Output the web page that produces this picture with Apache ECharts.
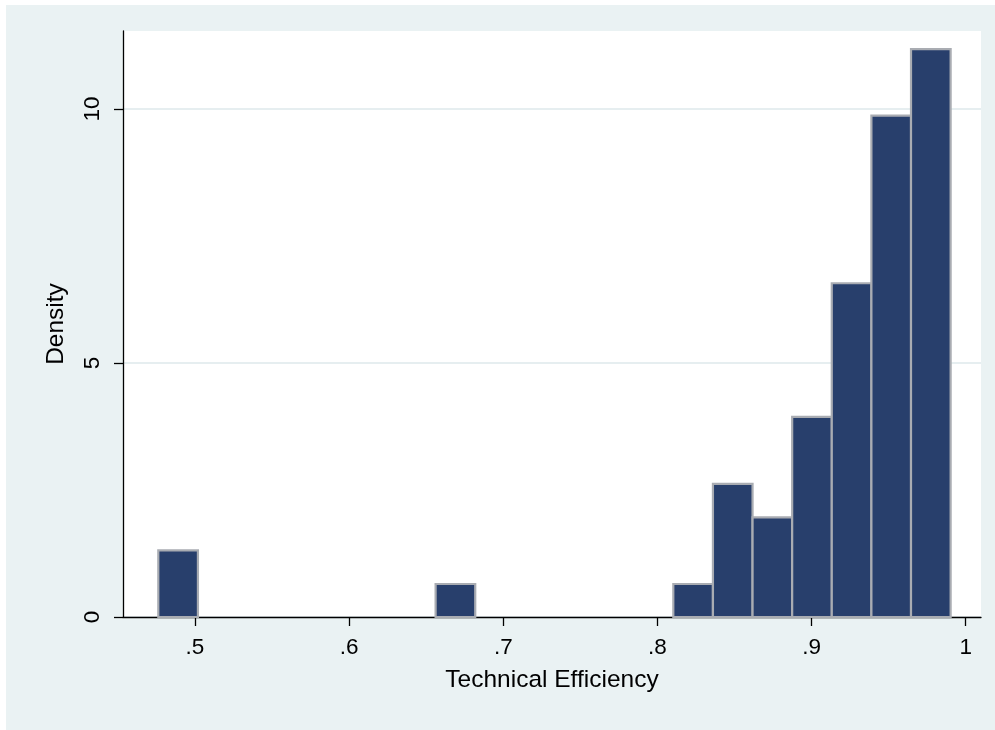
<!DOCTYPE html>
<html>
<head>
<meta charset="utf-8">
<script src="https://cdn.jsdelivr.net/npm/echarts@6/dist/echarts.min.js"></script>
<style>
  html, body { margin: 0; padding: 0; background: #ffffff; width: 995px; height: 730px; overflow: hidden; }
  #chart { position: absolute; left: 6px; top: 5px; width: 989px; height: 725px; }
</style>
</head>
<body>
<div id="chart"></div>
<script>
// Histogram of technical efficiency (Stata-style), 20 bins
var binStart = 0.4762;
var binWidth = 0.0257;
var densities = [1.31, 0, 0, 0, 0, 0, 0, 0.65, 0, 0, 0, 0, 0, 0.65, 2.62, 1.96, 3.94, 6.57, 9.87, 11.18];
var xTickValues = [0.5, 0.6, 0.7, 0.8, 0.9, 1];
var xTickLabels = ['.5', '.6', '.7', '.8', '.9', '1'];
var yTickValues = [0, 5, 10];
var yTickLabels = ['0', '5', '10'];
var xTitle = 'Technical Efficiency';
var yTitle = 'Density';

var data = densities.map(function (d, i) {
  var x0 = binStart + i * binWidth;
  return [x0, x0 + binWidth, d];
});

var font = "'Liberation Sans', Arial, Helvetica, sans-serif";
var chart = echarts.init(document.getElementById('chart'), null, { renderer: 'canvas' });
chart.setOption({
  backgroundColor: '#eaf2f3',
  animation: false,
  grid: { left: 117, top: 26, right: 14, bottom: 113, show: true, backgroundColor: '#ffffff', borderWidth: 0 },
  xAxis: {
    type: 'value',
    min: 0.4533,
    max: 1.0099,
    name: xTitle,
    nameLocation: 'middle',
    nameGap: 51,
    nameTextStyle: { fontFamily: font, fontSize: 24.5, color: '#000' },
    axisLine: { show: true, onZero: false, lineStyle: { color: '#000', width: 1.3 } },
    axisTick: { show: true, length: 9, customValues: xTickValues, lineStyle: { color: '#000', width: 1.3 } },
    axisLabel: {
      customValues: xTickValues,
      margin: 19,
      fontFamily: font, fontSize: 22.5, color: '#000',
      formatter: function (v) {
        for (var i = 0; i < xTickValues.length; i++) {
          if (Math.abs(xTickValues[i] - v) < 1e-9) return xTickLabels[i];
        }
        return '';
      }
    },
    splitLine: { show: false }
  },
  yAxis: {
    type: 'value',
    min: 0,
    max: 11.535,
    name: yTitle,
    nameLocation: 'middle',
    nameGap: 54,
    nameRotate: 90,
    nameTextStyle: { fontFamily: font, fontSize: 24.5, color: '#000' },
    axisLine: { show: true, lineStyle: { color: '#000', width: 1.3 } },
    axisTick: { show: true, length: 9, customValues: yTickValues, lineStyle: { color: '#000', width: 1.3 } },
    axisLabel: {
      customValues: yTickValues,
      rotate: 90,
      margin: 19,
      fontFamily: font, fontSize: 22.5, color: '#000',
      formatter: function (v) {
        for (var i = 0; i < yTickValues.length; i++) {
          if (Math.abs(yTickValues[i] - v) < 1e-9) return yTickLabels[i];
        }
        return '';
      }
    },
    splitLine: { show: true, lineStyle: { color: '#e6eef0', width: 2 } }
  },
  series: [{
    type: 'custom',
    data: data,
    encode: { x: [0, 1], y: 2 },
    renderItem: function (params, api) {
      var h = api.value(2);
      if (!h) return null;
      var p0 = api.coord([api.value(0), h]);
      var p1 = api.coord([api.value(1), 0]);
      return {
        type: 'rect',
        shape: { x: p0[0], y: p0[1], width: p1[0] - p0[0], height: p1[1] - p0[1] },
        style: { fill: '#283f6c', stroke: '#a9acb2', lineWidth: 2.2 }
      };
    }
  }]
});
</script>
</body>
</html>
